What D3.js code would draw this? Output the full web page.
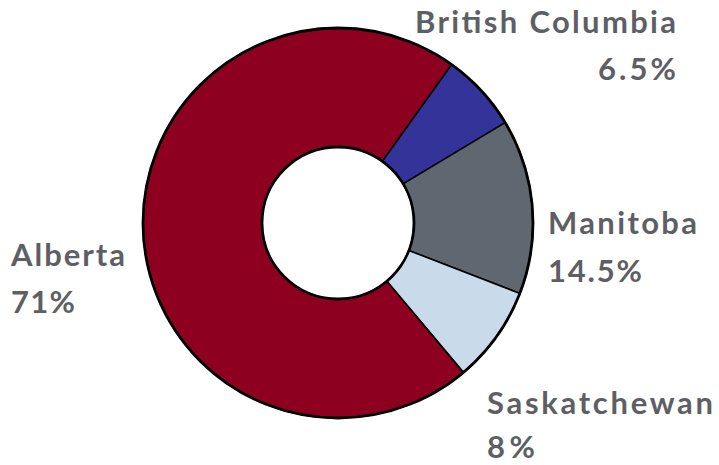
<!DOCTYPE html>
<html><head><meta charset="utf-8">
<script src="https://cdn.jsdelivr.net/npm/d3@7"></script>
<style>body{margin:0;background:#fff}svg{display:block}</style>
</head><body>
<script>
const categories = ["British Columbia", "Manitoba", "Saskatchewan", "Alberta"];
const values = [6.5, 14.5, 8, 71];
const valueLabels = ["6.5%", "14.5%", "8%", "71%"];
const colors = ["#333399", "#5F6870", "#C9DAEA", "#8E0020"];

const W = 719, H = 465;
const cx = 338, cy = 223, rOuter = 195, rInner = 76;
const svg = d3.select("body").append("svg").attr("width", W).attr("height", H);
const g = svg.append("g").attr("transform", `translate(${cx},${cy})`);

const startA = 35.6 * Math.PI / 180;
const pie = d3.pie().sort(null).value(d => d.v).startAngle(startA).endAngle(startA + 2 * Math.PI);
const data = categories.map((c, i) => ({c, v: values[i], lab: valueLabels[i], col: colors[i]}));
const arcs = pie(data);
const arc = d3.arc().innerRadius(rInner).outerRadius(rOuter);

g.selectAll("path.slice").data(arcs).join("path")
  .attr("class", "slice")
  .attr("d", arc)
  .attr("fill", d => d.data.col)
  .attr("stroke", "#000").attr("stroke-width", 1.6).attr("stroke-linejoin", "round");
g.append("circle").attr("r", rOuter).attr("fill", "none").attr("stroke", "#000").attr("stroke-width", 2.8);
g.append("circle").attr("r", rInner).attr("fill", "none").attr("stroke", "#000").attr("stroke-width", 2.8);

// label layout (positions and widths only)
const labelPos = {
  "British Columbia": {x: 676, y1: 33, y2: 80, anchor: "end", w1: 261, w2: 78},
  "Manitoba": {x: 548, y1: 234, y2: 282, anchor: "start", w1: 149, w2: 94},
  "Saskatchewan": {x: 487, y1: 414, y2: 458, anchor: "start", w1: 226, w2: 48},
  "Alberta": {x: 11, y1: 266, y2: 313, anchor: "start", w1: 114, w2: 64}
};
const fontFam = "Lato, 'DejaVu Sans', sans-serif";
data.forEach(d => {
  const p = labelPos[d.c];
  const mk = (txt, y, w) => svg.append("text").attr("x", p.x).attr("y", y)
    .attr("text-anchor", p.anchor)
    .attr("font-family", fontFam).attr("font-weight", 700).attr("font-size", 31)
    .attr("fill", "#5E5F65")
    .attr("textLength", w).attr("lengthAdjust", "spacing")
    .text(txt);
  mk(d.c, p.y1, p.w1);
  mk(d.lab, p.y2, p.w2);
});
</script>
</body></html>
